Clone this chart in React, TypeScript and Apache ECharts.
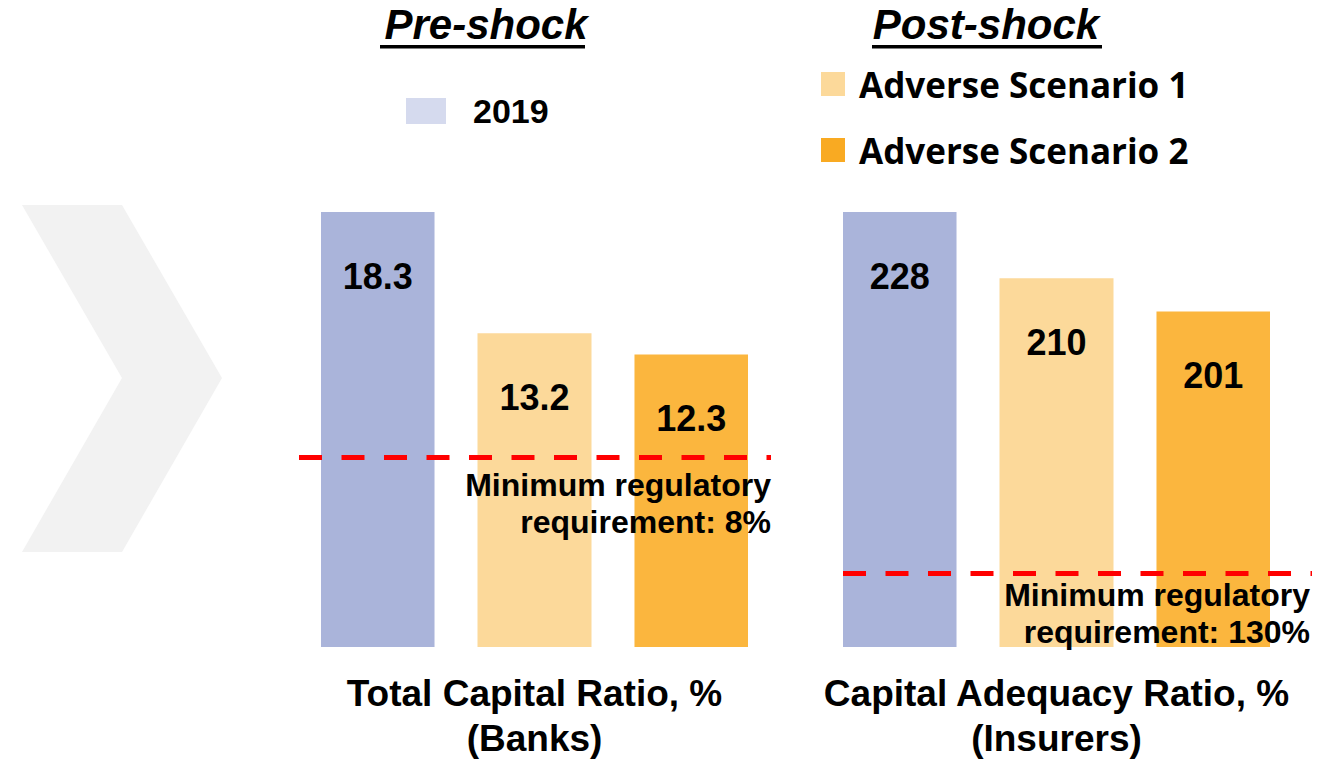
import React, { useEffect, useRef } from "react";
import * as echarts from "echarts";

const seriesNames = ["2019", "Adverse Scenario 1", "Adverse Scenario 2"];
const banksCategory = ["Total Capital Ratio, %\n(Banks)"];
const insurersCategory = ["Capital Adequacy Ratio, %\n(Insurers)"];
const banksValues = [18.3, 13.2, 12.3];
const insurersValues = [228, 210, 201];
const banksMinimum = 8;
const insurersMinimum = 130;
const banksMinLabel = "Minimum regulatory\nrequirement: 8%";
const insurersMinLabel = "Minimum regulatory\nrequirement: 130%";

const barColors = ["#aab4da", "#fcd99a", "#fbb63e"];
const legendColors = ["#d5daee", "#fcd99a", "#f9aa22"];
const ARIAL = '"Liberation Sans", Arial, Helvetica, sans-serif';

export default function App() {
  const ref = useRef<HTMLDivElement>(null);

  useEffect(() => {
    if (!ref.current) return;
    const chart = echarts.init(ref.current, undefined, { renderer: "svg" });

    const valueLabel = {
      show: true,
      position: "insideTop",
      distance: 46,
      fontSize: 36,
      fontWeight: "bold",
      fontFamily: ARIAL,
      color: "#000",
    };

    const makeMarkLine = (
      value: number,
      text: string,
      x0: number,
      x1: number,
      dist: number[]
    ) => ({
      silent: true,
      symbol: ["none", "none"],
      lineStyle: { color: "#ff0000", width: 5, type: [23, 19.5] },
      label: {
        show: true,
        position: "insideEndBottom",
        distance: dist,
        formatter: text,
        fontSize: 32,
        lineHeight: 37,
        fontWeight: "bold",
        fontFamily: ARIAL,
        color: "#000",
        align: "right",
      },
      data: [[{ x: x0, yAxis: value }, { x: x1, yAxis: value }]],
    });

    const series: any[] = [];
    seriesNames.forEach((name, i) => {
      series.push({
        type: "bar",
        name,
        xAxisIndex: 0,
        yAxisIndex: 0,
        data: [banksValues[i]],
        barWidth: 114,
        barGap: "37.7%",
        itemStyle: { color: barColors[i] },
        label: valueLabel,
        z: 2,
        markLine: i === 0 ? makeMarkLine(banksMinimum, banksMinLabel, 299, 771, [0, 10]) : undefined,
      });
    });
    seriesNames.forEach((name, i) => {
      series.push({
        type: "bar",
        name,
        xAxisIndex: 1,
        yAxisIndex: 1,
        data: [insurersValues[i]],
        barWidth: 114,
        barGap: "37.7%",
        itemStyle: { color: barColors[i] },
        label: valueLabel,
        z: 2,
        markLine:
          i === 0 ? makeMarkLine(insurersMinimum, insurersMinLabel, 843, 1312, [2, 3]) : undefined,
      });
    });

    const catAxis = (data: string[], gridIndex: number) => ({
      type: "category",
      gridIndex,
      data,
      axisLine: { show: false },
      axisTick: { show: false },
      axisLabel: {
        show: true,
        margin: 24,
        fontSize: 37,
        lineHeight: 45,
        fontWeight: "bold",
        fontFamily: ARIAL,
        color: "#000",
        align: "center",
      },
    });

    const option: any = {
      animation: false,
      backgroundColor: "#ffffff",
      grid: [
        { left: 321, width: 427, top: 212, bottom: 115 },
        { left: 843, width: 427, top: 212, bottom: 115 },
      ],
      xAxis: [catAxis(banksCategory, 0), catAxis(insurersCategory, 1)],
      yAxis: [
        { type: "value", gridIndex: 0, min: 0, max: 18.3, show: false, splitLine: { show: false } },
        { type: "value", gridIndex: 1, min: 110, max: 228, show: false, splitLine: { show: false } },
      ],
      legend: [
        {
          left: 406,
          top: 91,
          padding: 0,
          selectedMode: false,
          icon: "rect",
          itemWidth: 40,
          itemHeight: 26,
          data: [{ name: seriesNames[0], itemStyle: { color: legendColors[0] } }],
          textStyle: {
            fontSize: 34,
            lineHeight: 40,
            fontWeight: "bold",
            fontFamily: ARIAL,
            color: "#000",
            padding: [0, 0, 0, 22],
          },
        },
        {
          left: 821,
          top: 64,
          padding: 0,
          orient: "vertical",
          itemGap: 26,
          selectedMode: false,
          icon: "rect",
          itemWidth: 24,
          itemHeight: 24,
          data: [
            { name: seriesNames[1], itemStyle: { color: legendColors[1] } },
            { name: seriesNames[2], itemStyle: { color: legendColors[2] } },
          ],
          textStyle: {
            fontSize: 35,
            lineHeight: 40,
            fontWeight: "bold",
            fontFamily: '"Open Sans", Lato, sans-serif',
            color: "#000",
            padding: [0, 0, 0, 9],
          },
        },
      ],
      graphic: [
        {
          type: "polygon",
          shape: {
            points: [
              [22, 205],
              [122, 205],
              [222, 378],
              [122, 552],
              [22, 552],
              [122, 378],
            ],
          },
          style: { fill: "#f2f2f2" },
          z: 0,
        },
        {
          type: "text",
          x: 486,
          y: 24,
          style: {
            text: "Pre-shock",
            font: `italic bold 42px ${ARIAL}`,
            fill: "#000",
            align: "center",
            verticalAlign: "middle",
          },
        },
        { type: "rect", shape: { x: 380, y: 45, width: 205, height: 3.5 }, style: { fill: "#000" } },
        {
          type: "text",
          x: 986,
          y: 24,
          style: {
            text: "Post-shock",
            font: `italic bold 42px ${ARIAL}`,
            fill: "#000",
            align: "center",
            verticalAlign: "middle",
          },
        },
        { type: "rect", shape: { x: 872, y: 45, width: 230, height: 3.5 }, style: { fill: "#000" } },
      ],
      series,
    };

    chart.setOption(option);
    return () => chart.dispose();
  }, []);

  return (
    <div
      ref={ref}
      style={{ position: "fixed", left: 0, top: 0, width: 1337, height: 762, background: "#fff" }}
    />
  );
}
